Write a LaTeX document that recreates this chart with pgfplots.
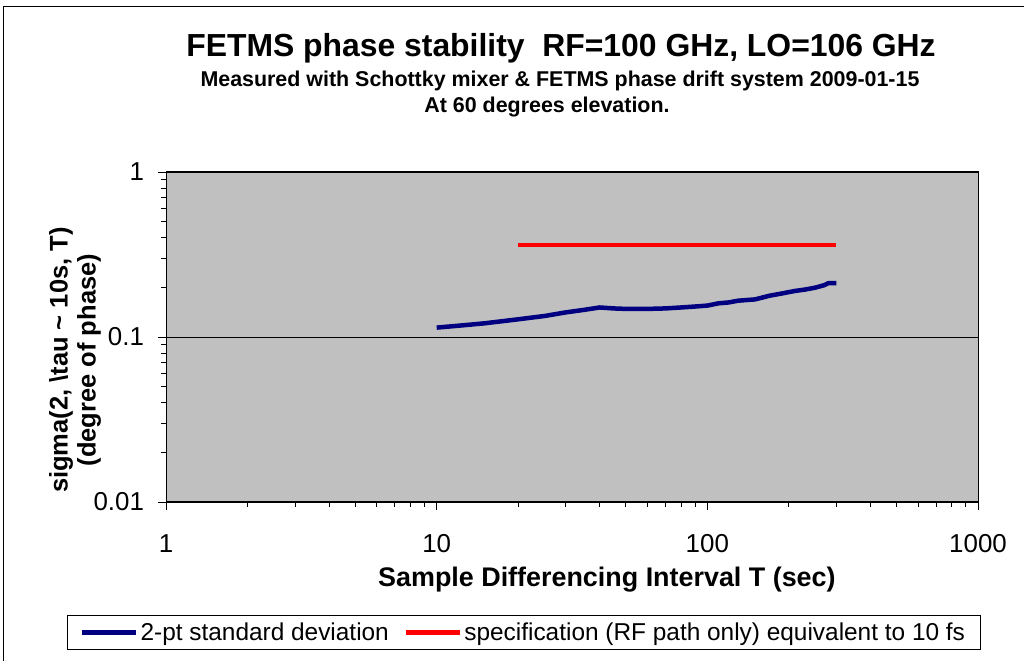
\documentclass[border=0pt]{standalone}
\usepackage{fontspec}
\setmainfont{Liberation Sans}
\usepackage{pgfplots}
\pgfplotsset{compat=1.18}
\definecolor{plotgray}{HTML}{C0C0C0}
\definecolor{navyblue}{HTML}{000080}
\begin{document}
\begin{tikzpicture}[x=1bp,y=1bp]
\useasboundingbox (0,0) rectangle (1024,661);
\fill[white] (0,0) rectangle (1024,661);
\draw[line width=1.5bp] (3.5,0) -- (3.5,654.5) -- (1024,654.5);
\node[font=\bfseries\fontsize{32}{36}\selectfont] at (561,613) {FETMS phase stability\ \ RF=100 GHz, LO=106 GHz};
\node[font=\bfseries\fontsize{21.5}{24}\selectfont] at (560,580) {Measured with Schottky mixer \& FETMS phase drift system 2009-01-15};
\node[font=\bfseries\fontsize{21.5}{24}\selectfont] at (547,554) {At 60 degrees elevation.};
\begin{axis}[
  at={(166bp,159bp)}, anchor=south west,
  scale only axis, width=812bp, height=330bp,
  xmode=log, ymode=log,
  xmin=1, xmax=1000, ymin=0.01, ymax=1,
  axis background/.style={fill=plotgray},
  axis line style={black, line width=1bp},
  tick align=outside, tick pos=left,
  major tick length=8bp, minor tick length=5bp,
  every tick/.style={black, line width=0.8bp},
  xtick={1,10,100,1000}, xticklabels={1,10,100,1000},
  ytick={0.01,0.1,1}, yticklabels={0.01,0.1,1},
  ymajorgrids, grid style={black, line width=0.8bp},
  ticklabel style={font=\fontsize{26}{30}\selectfont},
  xticklabel style={yshift=-21bp},
  yticklabel style={xshift=-10.5bp},
  xlabel={\bfseries Sample Differencing Interval T (sec)},
  xlabel style={font=\fontsize{27}{30}\selectfont, at={(axis description cs:0.543,-0.255)}, anchor=base},
  ylabel={\bfseries sigma(2, \textbackslash tau \textasciitilde{} 10s, T)\\\bfseries(degree of phase)},
  ylabel style={font=\fontsize{25.6}{28}\selectfont, align=center, at={(axis description cs:-0.112,0.43)}, anchor=center},
  legend columns=2,
  legend style={at={(axis description cs:0.4403,-0.3955)}, anchor=center, draw=black, line width=1bp,
    font=\fontsize{24.5}{28}\selectfont, inner ysep=5bp, inner xsep=12.5bp,
    nodes={inner sep=2.5bp},
    /tikz/every even column/.append style={column sep=12bp}},
  legend image code/.code={\draw[#1, line width=4.5bp] (0bp,0bp) -- (54bp,0bp);},
]
\addplot[navyblue, line width=4.5bp, line join=round] coordinates {
(10,0.114) (12,0.117) (15,0.121) (20,0.128) (25,0.134) (30,0.141) (35,0.146)
(40,0.151) (45,0.149) (50,0.148) (60,0.148) (70,0.149) (80,0.151) (90,0.153)
(100,0.155) (110,0.160) (120,0.162) (130,0.166) (150,0.169) (170,0.178)
(190,0.184) (210,0.190) (230,0.194) (250,0.199) (270,0.206) (280,0.212) (300,0.212)
};
\addlegendentry{2-pt standard deviation}
\addplot[red, line width=4.5bp] coordinates {(20,0.36) (300,0.36)};
\addlegendentry{specification (RF path only) equivalent to 10 fs}
\end{axis}
\end{tikzpicture}
\end{document}
